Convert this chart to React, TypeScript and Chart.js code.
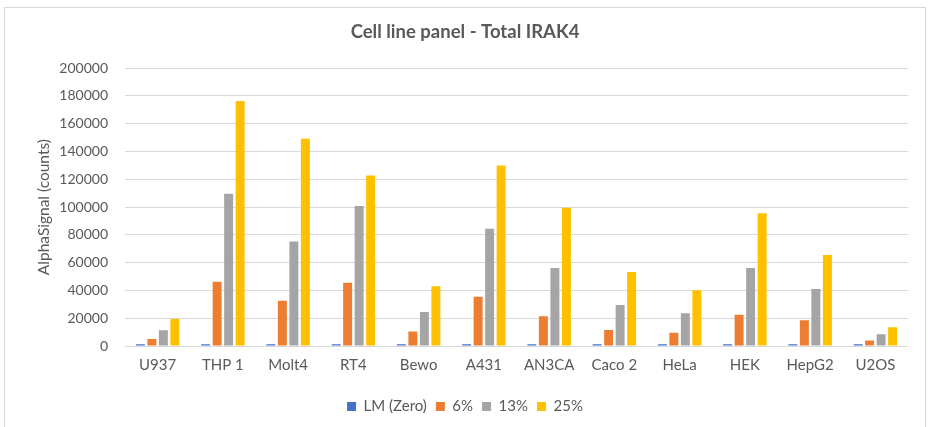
import React, { useEffect, useRef } from "react";
import { Chart, registerables } from "chart.js";

Chart.register(...registerables);

const categories = ["U937", "THP1", "Molt4", "RT4", "Bewo", "A431", "AN3CA", "Caco2", "HeLa", "HEK", "HepG2", "U2OS"];
const tickLabels = ["U937", "THP 1", "Molt4", "RT4", "Bewo", "A431", "AN3CA", "Caco 2", "HeLa", "HEK", "HepG2", "U2OS"];
const seriesNames = ["LM (Zero)", "6%", "13%", "25%"];
const lmZero = [1200, 1200, 1200, 1200, 1200, 1200, 1200, 1200, 1200, 1200, 1200, 1200];
const pct6 = [5000, 46300, 32500, 45500, 10500, 35500, 21500, 11500, 9500, 22500, 18500, 4000];
const pct13 = [11300, 109700, 75300, 100800, 24500, 84500, 56100, 29500, 23500, 56100, 41100, 8500];
const pct25 = [19500, 176400, 149200, 122700, 43100, 130000, 99600, 53200, 40200, 95500, 65500, 13500];
const colors = ["#4472C4", "#ED7D31", "#A5A5A5", "#FFC000"];
const yTicks = [0, 20000, 40000, 60000, 80000, 100000, 120000, 140000, 160000, 180000, 200000];

const FONT = "Lato, 'Open Sans', sans-serif";
const TEXT = "#595959";

export default function App() {
  const ref = useRef<HTMLCanvasElement | null>(null);
  useEffect(() => {
    if (!ref.current) return;
    const values = [lmZero, pct6, pct13, pct25];
    const chart = new Chart(ref.current, {
      type: "bar",
      data: {
        labels: categories,
        datasets: seriesNames.map((name, i) => ({
          label: name,
          data: values[i],
          backgroundColor: colors[i],
          borderWidth: 0,
          categoryPercentage: 0.705,
          barPercentage: 0.78,
        })),
      },
      options: {
        animation: false,
        responsive: false,
        devicePixelRatio: 1,
        layout: { padding: { left: 22, right: 22, top: 0, bottom: 3 } },
        plugins: {
          title: {
            display: true,
            text: "Cell line panel - Total IRAK4",
            color: TEXT,
            font: { family: FONT, size: 18.5, weight: "bold" },
            padding: { top: 21, bottom: 25 },
          },
          legend: {
            position: "bottom",
            labels: {
              color: TEXT,
              font: { family: FONT, size: 15 },
              boxWidth: 9,
              boxHeight: 9,
              padding: 9,
            },
          },
          tooltip: { enabled: false },
        },
        scales: {
          x: {
            grid: { display: false },
            border: { display: false },
            afterFit: (scale: any) => {
              scale.height = 44;
            },
            ticks: {
              color: TEXT,
              font: { family: FONT, size: 15 },
              padding: 2,
              callback: (_v: any, i: number) => tickLabels[i],
            },
          },
          y: {
            min: 0,
            max: 200000,
            afterBuildTicks: (scale: any) => {
              scale.ticks = yTicks.map((v) => ({ value: v }));
            },
            afterFit: (scale: any) => {
              scale.width = 103;
            },
            grid: { color: "#D9D9D9", lineWidth: 1, drawTicks: false },
            border: { display: false },
            ticks: {
              color: TEXT,
              font: { family: FONT, size: 14 },
              padding: 17,
              callback: (v: any) => String(v),
            },
            title: {
              display: true,
              text: "AlphaSignal (counts)",
              color: TEXT,
              font: { family: FONT, size: 15.5 },
              padding: { top: 13, bottom: 0 },
            },
          },
        },
      },
    });
    return () => chart.destroy();
  }, []);
  return (
    <div style={{ position: "fixed", left: 0, top: 0, width: 930, height: 427, background: "#fff" }}>
      <div
        style={{
          position: "absolute",
          left: 4,
          top: 7,
          width: 922,
          height: 430,
          border: "1px solid #D9D9D9",
          boxSizing: "border-box",
        }}
      />
      <canvas ref={ref} width={930} height={427} style={{ position: "absolute", left: 0, top: 0, width: 930, height: 427 }} />
    </div>
  );
}
